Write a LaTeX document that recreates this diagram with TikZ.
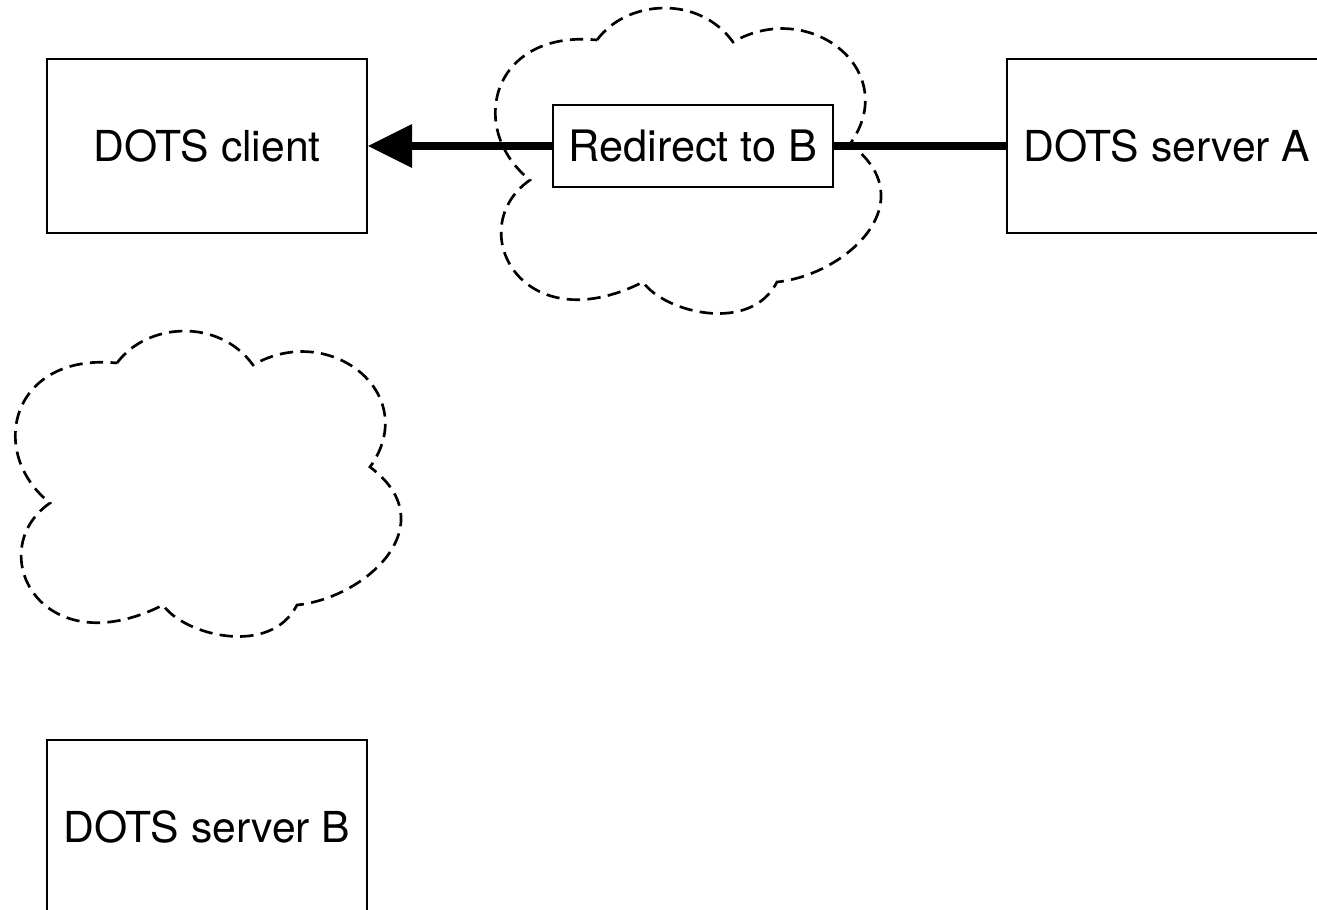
\documentclass[tikz,border=0pt]{standalone}
\usepackage{fontspec}
\setmainfont{TeX Gyre Heros}
\usetikzlibrary{arrows.meta}
\tikzset{
  box/.style={draw=black, line width=1.7pt, fill=white, minimum width=240pt, minimum height=130.5pt, inner sep=0pt, font=\fontsize{32}{38}\selectfont},
  labelbox/.style={draw=black, line width=1.7pt, fill=white, minimum width=210pt, minimum height=61.5pt, inner sep=0pt, font=\fontsize{32.5}{38}\selectfont},
  cloudline/.style={draw=black, line width=2pt, dash pattern=on 10pt off 5.5pt},
  bigarrow/.style={line width=5.5pt, -{Triangle[length=33pt, width=33pt, line width=0pt]}},
  pics/dotscloud/.style={code={
    \draw[cloudline] (117,363) .. controls (146.4,322.7) and (218.6,317.4) .. (253,365)
      .. controls (330,320.7) and (422.3,394) .. (370,467)
      .. controls (446.7,524.5) and (365.7,598) .. (297,605)
      .. controls (270.5,657.3) and (184.1,635.3) .. (163,605)
      .. controls (40.5,666.9) and (-18.2,550.4) .. (50,503)
      .. controls (-13.8,452.3) and (11.5,352.4) .. cycle;
  }}
}
\begin{document}
\begin{tikzpicture}[x=0.75pt, y=-0.75pt]
  \useasboundingbox (0,0) rectangle (1317,910);
  % clouds
  \pic (cloudA) at (480,-323) {dotscloud};
  \pic (cloudB) at (0,0) {dotscloud};
  % boxes
  \node[box] (client) at (207,146) {DOTS client};
  \node[box] (serverA) at (1167,146) {DOTS server A};
  \node[box] (serverB) at (207,827) {DOTS server B};
  % connector
  \draw[bigarrow] (serverA) -- node[labelbox, pos=0.4906] (redirect) {Redirect to B} (client);
\end{tikzpicture}
\end{document}
